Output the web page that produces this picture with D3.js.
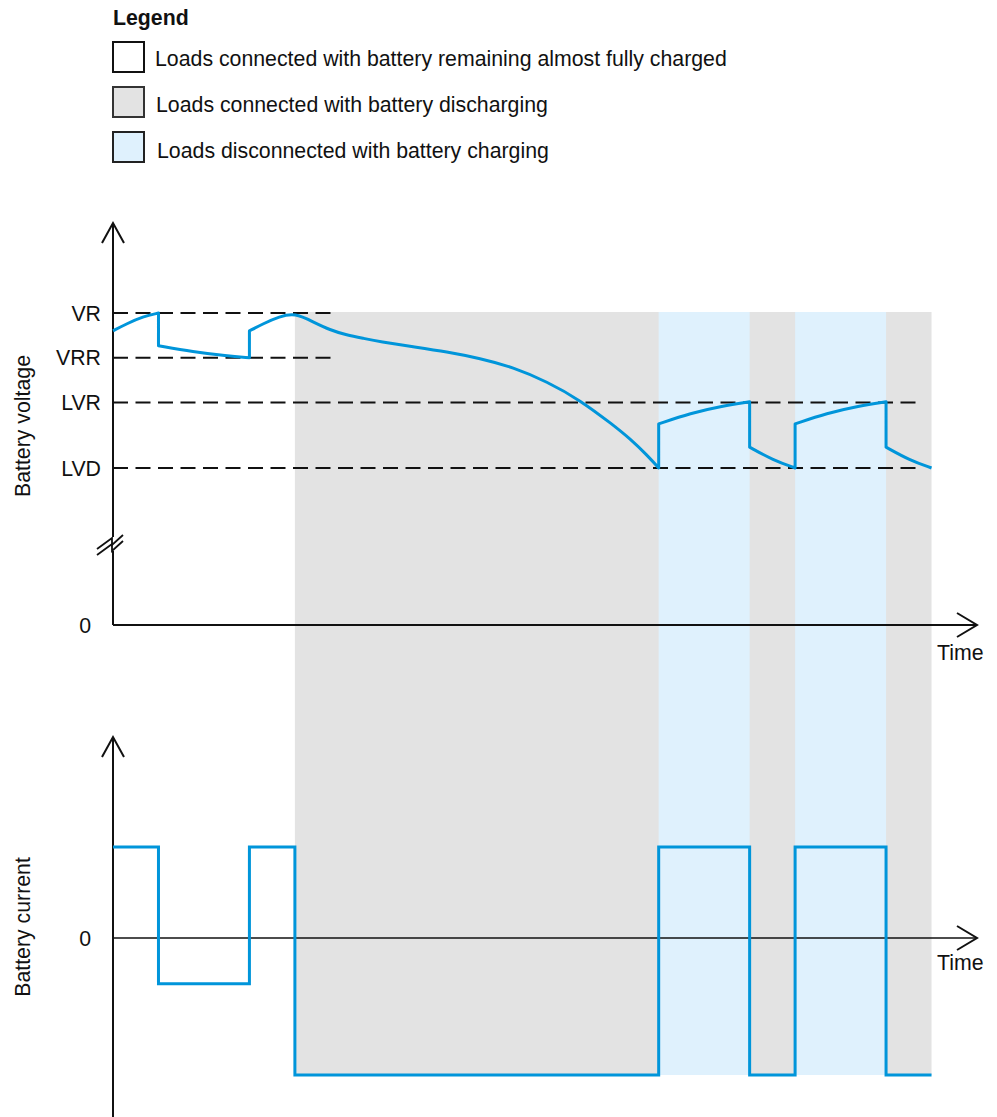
<!DOCTYPE html>
<html>
<head>
<meta charset="utf-8">
<script src="https://cdn.jsdelivr.net/npm/d3@7"></script>
<style>
  html, body { margin: 0; padding: 0; background: #fff; }
  svg { display: block; font-family: "Liberation Sans", Arial, Helvetica, sans-serif; }
</style>
</head>
<body>
<svg id="chart" width="997" height="1117"></svg>
<script>
// ---------------- DATA ----------------
const legendLabels = [
  "Loads connected with battery remaining almost fully charged",
  "Loads connected with battery discharging",
  "Loads disconnected with battery charging"
];
const legendFills = ["#ffffff", "#e3e3e3", "#dff1fd"];

// reference voltage levels (V, arbitrary representative values)
const refLabels = ["VR", "VRR", "LVR", "LVD"];
const refValues = [14.4, 13.65, 12.9, 11.8];
const refEnds   = [48.4, 48.4, 178, 178];   // time where each dashed line stops

// phases (time units)
const dischargeSpan = [40, 180];
const chargeStarts  = [120, 150];
const chargeEnds    = [140, 170];

// battery voltage (repeated time = vertical jump)
const voltTime  = [0, 3, 6.6, 10,
                   10, 17.6, 25, 30,
                   30, 33, 36.6, 40,
                   44.05, 47.7, 51.4, 55, 58.7, 66, 73.4, 80.7, 88, 95.4, 102.7, 110, 113.7, 117.4, 120,
                   120, 127, 134, 140,
                   140, 145.2, 150,
                   150, 157, 164, 170,
                   170, 175.2, 180];
const voltValue = [14.10, 14.22, 14.34, 14.40,
                   13.85, 13.75, 13.68, 13.65,
                   14.10, 14.22, 14.34, 14.40,
                   14.25, 14.115, 14.03, 13.976, 13.92, 13.835, 13.75, 13.64, 13.49, 13.25, 12.94, 12.52, 12.29, 12.02, 11.80,
                   12.54, 12.72, 12.84, 12.91,
                   12.15, 11.93, 11.80,
                   12.54, 12.72, 12.84, 12.91,
                   12.15, 11.93, 11.80];

// battery current (step after)
const currTime  = [0, 10, 30, 40, 120, 140, 150, 170, 180];
const currValue = [1, -0.5, 1, -1.5, 1, -1.5, 1, -1.5, -1.5];

// ---------------- LAYOUT ----------------
const svg = d3.select("#chart");
const BLUE = "#0095da";
const INK = "#111";
const FS = 21.3;

const x = d3.scaleLinear().domain([0, 190]).range([113, 977]);
// upper chart: piecewise scale (axis is broken between 0 and LVD)
const yV = d3.scaleLinear().domain([0, 11.8, 14.4]).range([625, 468, 313]);
const yI = d3.scaleLinear().domain([-1.5, 0, 1]).range([1075, 938, 847]);

const shadeTop = yV(14.4) - 1, shadeBottom = yI(-1.5);

// ---------------- SHADING ----------------
svg.append("rect")
  .attr("x", x(dischargeSpan[0])).attr("y", shadeTop)
  .attr("width", x(dischargeSpan[1]) - x(dischargeSpan[0]))
  .attr("height", shadeBottom - shadeTop)
  .attr("fill", legendFills[1]);
svg.selectAll("rect.charge").data(chargeStarts).enter().append("rect")
  .attr("class", "charge")
  .attr("x", d => x(d)).attr("y", shadeTop)
  .attr("width", (d, i) => x(chargeEnds[i]) - x(d))
  .attr("height", shadeBottom - shadeTop)
  .attr("fill", legendFills[2]);

// ---------------- LEGEND ----------------
svg.append("text").attr("x", 113).attr("y", 25)
  .attr("font-size", FS).attr("font-weight", "bold").attr("fill", INK).text("Legend");
const legendBoxY = [42, 87, 132];
const legendTextY = [66, 112, 158];
const legendTextX = [155, 156, 157];
const legendStroke = ["#111", "#333", "#222"];
legendLabels.forEach((lab, i) => {
  svg.append("rect").attr("x", 113).attr("y", legendBoxY[i])
    .attr("width", 31).attr("height", 30)
    .attr("fill", legendFills[i]).attr("stroke", legendStroke[i]).attr("stroke-width", 2);
  svg.append("text").attr("x", legendTextX[i]).attr("y", legendTextY[i])
    .attr("font-size", FS).attr("fill", INK).text(lab);
});

// ---------------- REFERENCE LINES ----------------
refValues.forEach((v, i) => {
  svg.append("line")
    .attr("x1", x(0)).attr("x2", x(refEnds[i]))
    .attr("y1", yV(v)).attr("y2", yV(v))
    .attr("stroke", INK).attr("stroke-width", 2)
    .attr("stroke-dasharray", "15,7.5");
  svg.append("text")
    .attr("x", 101).attr("y", yV(v)).attr("dy", "0.36em")
    .attr("text-anchor", "end").attr("font-size", FS).attr("fill", INK)
    .text(refLabels[i]);
});

// ---------------- AXES ----------------
function arrowUp(xx, yy) {
  svg.append("path").attr("d", `M${xx - 11},${yy + 20}L${xx},${yy}L${xx + 11},${yy + 20}`)
    .attr("fill", "none").attr("stroke", INK).attr("stroke-width", 2);
}
function arrowRight(xx, yy) {
  svg.append("path").attr("d", `M${xx - 20},${yy - 12}L${xx},${yy}L${xx - 20},${yy + 12}`)
    .attr("fill", "none").attr("stroke", INK).attr("stroke-width", 2);
}
const x0 = x(0);
// upper y axis with break
svg.append("line").attr("x1", x0).attr("x2", x0).attr("y1", 223).attr("y2", 537)
  .attr("stroke", INK).attr("stroke-width", 2);
svg.append("line").attr("x1", x0).attr("x2", x0).attr("y1", 551).attr("y2", yV(0))
  .attr("stroke", INK).attr("stroke-width", 2);
[0, 6].forEach(o => {
  svg.append("path")
    .attr("d", `M${x0 - 16},${549 + o}L${x0 - 1},${538 + o}L${x0 - 1},${545 + o}L${x0 + 10},${535 + o}`)
    .attr("fill", "none").attr("stroke", INK).attr("stroke-width", 1.8)
    .attr("stroke-linejoin", "miter");
});
arrowUp(x0, 223);
svg.append("line").attr("x1", x0).attr("x2", x(190)).attr("y1", yV(0)).attr("y2", yV(0))
  .attr("stroke", INK).attr("stroke-width", 2);
arrowRight(x(190), yV(0));
svg.append("text").attr("x", 91).attr("y", yV(0)).attr("dy", "0.36em")
  .attr("text-anchor", "end").attr("font-size", FS).attr("fill", INK).text("0");
svg.append("text").attr("x", 937).attr("y", 660)
  .attr("font-size", FS).attr("fill", INK).text("Time");
svg.append("text").attr("transform", `translate(30,426) rotate(-90)`)
  .attr("text-anchor", "middle").attr("font-size", FS).attr("fill", INK).text("Battery voltage");

// lower axes
svg.append("line").attr("x1", x0).attr("x2", x0).attr("y1", 737).attr("y2", 1117)
  .attr("stroke", INK).attr("stroke-width", 2);
arrowUp(x0, 737);
svg.append("line").attr("x1", x0).attr("x2", x(190)).attr("y1", yI(0)).attr("y2", yI(0))
  .attr("stroke", INK).attr("stroke-width", 1.6);
arrowRight(x(190), yI(0));
svg.append("text").attr("x", 91).attr("y", yI(0)).attr("dy", "0.36em")
  .attr("text-anchor", "end").attr("font-size", FS).attr("fill", INK).text("0");
svg.append("text").attr("x", 937).attr("y", 970)
  .attr("font-size", FS).attr("fill", INK).text("Time");
svg.append("text").attr("transform", `translate(30,927) rotate(-90)`)
  .attr("text-anchor", "middle").attr("font-size", FS).attr("fill", INK).text("Battery current");

// ---------------- SERIES ----------------
// voltage: split into smooth segments at repeated times, joined by vertical jumps
const vpts = voltTime.map((t, i) => [t, voltValue[i]]);
const segs = [];
vpts.forEach((p, i) => {
  if (i === 0 || p[0] === vpts[i - 1][0]) segs.push([p]);
  else segs[segs.length - 1].push(p);
});
const vline = d3.line().x(d => x(d[0])).y(d => yV(d[1])).curve(d3.curveBasis);
let dPath = "";
segs.forEach((s, i) => {
  let d = vline(s);
  if (i > 0) d = "L" + d.slice(1);
  dPath += d;
});
svg.append("path").attr("d", dPath)
  .attr("fill", "none").attr("stroke", BLUE).attr("stroke-width", 3)
  .attr("stroke-linejoin", "round");

const iline = d3.line().x(d => x(d[0])).y(d => yI(d[1])).curve(d3.curveStepAfter);
svg.append("path").attr("d", iline(currTime.map((t, i) => [t, currValue[i]])))
  .attr("fill", "none").attr("stroke", BLUE).attr("stroke-width", 3)
  .attr("stroke-linejoin", "miter");
</script>
</body>
</html>
